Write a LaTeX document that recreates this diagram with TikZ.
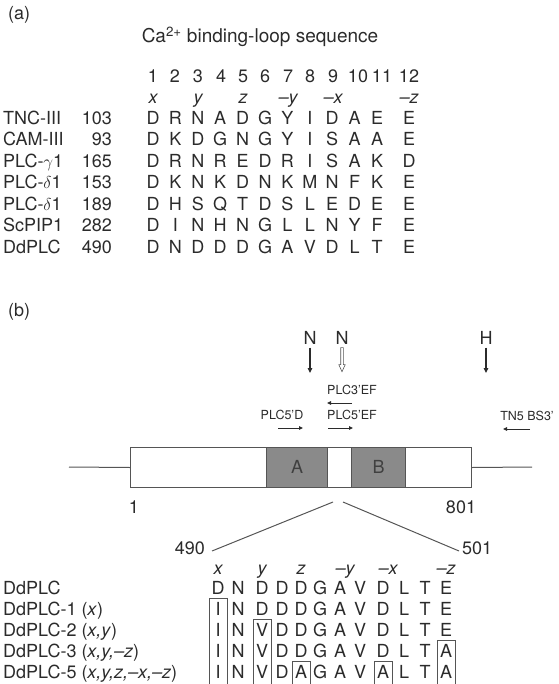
\documentclass[tikz,border=0pt]{standalone}
\usepackage{fontspec}
\setmainfont{TeX Gyre Heros}
\usetikzlibrary{arrows.meta,calc}
\definecolor{ink}{HTML}{2B2B2B}
\definecolor{linec}{HTML}{555555}
\definecolor{shade}{HTML}{8A8A8A}
\begin{document}
\begin{tikzpicture}[x=1pt,y=-1pt,
  txt/.style={inner sep=0pt,text height=12.9pt,text depth=0pt,font=\fontsize{18}{20}\selectfont,text=ink},
  small/.style={inner sep=0pt,text height=9pt,text depth=0pt,font=\fontsize{12.5}{14}\selectfont,text=ink},
  ln/.style={draw=linec,line width=1pt},
  arr/.style={draw=ink,line width=1.1pt,-{Triangle[length=5pt,width=4.5pt]}},
  parr/.style={draw=ink,line width=1pt,-{Triangle[length=4pt,width=3.5pt]}},
  mutbox/.style={draw=linec,line width=0.8pt}]
\useasboundingbox (0,0) rectangle (558,684);

% ---------------- (a)
\node[txt,anchor=west] (lbla) at (8,13) {(a)};
\node[txt,font=\fontsize{19}{21}\selectfont] (title) at (260,36) {Ca\textsuperscript{2+} binding-loop sequence};
\foreach \n/\xx in {1/153,2/175,3/198,4/221,5/243,6/265,7/288,8/310,9/333,10/358,11/382,12/409}
  \node[txt] (num\n) at (\xx,76) {\n};
\foreach \k/\xx/\s in {1/153/x,3/198/y,5/243/z,7/288/--y,9/333/--x,12/409/--z}
  \node[txt] (pa\k) at (\xx,97) {\itshape\s};
\foreach \lab/\num/\yy/\seq [count=\r] in {
 TNC-III/103/118/{D,R,N,A,D,G,Y,I,D,A,E,E},
 CAM-III/93/139.5/{D,K,D,G,N,G,Y,I,S,A,A,E},
 PLC-$\gamma$1/165/161/{D,R,N,R,E,D,R,I,S,A,K,D},
 PLC-$\delta$1/153/182.5/{D,K,N,K,D,N,K,M,N,F,K,E},
 PLC-$\delta$1/189/204/{D,H,S,Q,T,D,S,L,E,D,E,E},
 ScPIP1/282/225.5/{D,I,N,H,N,G,L,L,N,Y,F,E},
 DdPLC/490/247/{D,N,D,D,D,G,A,V,D,L,T,E}}
{
  \node[txt,anchor=west] (name\r) at (3,\yy) {\lab};
  \node[txt,anchor=east] (start\r) at (112,\yy) {\num};
  \foreach \c [count=\i] in \seq {
    \pgfmathsetmacro\cx{{153,175.4,197.8,220.2,242.6,265,287.4,309.8,332.2,354.6,377,409}[\i-1]}
    \node[txt] (s\r-\i) at (\cx,\yy) {\c};
  }
}

% ---------------- (b)
\node[txt,anchor=west] (lblb) at (8,310) {(b)};
\node[txt] (n1) at (310,338) {N};
\node[txt] (n2) at (342,338) {N};
\node[txt] (hh) at (486,338) {H};
\coordinate (n1e) at (310,373);
\coordinate (hhe) at (486,373);
\draw[arr] ($(n1.south)+(0,3)$) -- (n1e);
\draw[arr] ($(hh.south)+(0,3)$) -- (hhe);
\draw[draw=linec,line width=0.6pt,fill=white] ($(n2.south)+(-1.3,3)$) -- ++(2.6,0) -- ++(0,17) -- ++(1.9,0) -- ++(-3.2,7) -- ++(-3.2,-7) -- ++(1.9,0) -- cycle;

\node[small] (p3ef) at (352,390) {PLC3'EF};
\node[small] (p5d) at (282,415) {PLC5'D};
\node[small] (p5ef) at (352,415) {PLC5'EF};
\node[small] (tn5) at (527,416) {TN5 BS3'};
\coordinate (p3a) at (352,403); \coordinate (p3b) at (327,403);
\coordinate (p5da) at (278,428); \coordinate (p5db) at (303,428);
\coordinate (p5ea) at (328,428); \coordinate (p5eb) at (353,428);
\coordinate (tna) at (530,429); \coordinate (tnb) at (503,429);
\draw[parr] (p3a) -- (p3b);
\draw[parr] (p5da) -- (p5db);
\draw[parr] (p5ea) -- (p5eb);
\draw[parr] (tna) -- (tnb);

\node[draw=linec,line width=1pt,minimum width=341pt,minimum height=40pt,inner sep=0pt,anchor=north west] (bar) at (130,447) {};
\node[draw=linec,line width=1pt,fill=shade,minimum width=61pt,minimum height=40pt,inner sep=0pt,anchor=north west] (doma) at (266,447) {};
\node[draw=linec,line width=1pt,fill=shade,minimum width=54pt,minimum height=40pt,inner sep=0pt,anchor=north west] (domb) at (351,447) {};
\node[txt,text=black!75] (la) at (doma.center) {A};
\node[txt,text=black!75] (lb) at (domb.center) {B};
\coordinate (lend) at (69,467);
\coordinate (rend) at (532,467);
\draw[ln] (lend) -- (bar.west);
\draw[ln] (bar.east) -- (rend);
\node[txt] (one) at (134,507) {1};
\node[txt] (e801) at (461,507) {801};

\coordinate (dl) at (333,502);
\coordinate (dr) at (343,502);
\coordinate (dle) at (212,551);
\coordinate (dre) at (459,551);
\draw[ln] (dl) -- (dle);
\draw[ln] (dr) -- (dre);
\node[txt,anchor=east] (s490) at (205,548) {490};
\node[txt,anchor=west] (s501) at (462,548) {501};

\foreach \k/\xx/\s in {1/218/x,3/262/y,5/301/z,7/345/--y,9/388/--x,12/446/--z}
  \node[txt] (pb\k) at (\xx,568) {\itshape\s};
\foreach \lab/\yy/\seq [count=\r] in {
 DdPLC/588/{D,N,D,D,D,G,A,V,D,L,T,E},
 DdPLC-1 (\textit{x})/609/{I,N,D,D,D,G,A,V,D,L,T,E},
 DdPLC-2 (\textit{x,y})/630/{I,N,V,D,D,G,A,V,D,L,T,E},
 DdPLC-3 (\textit{x,y,--z})/651/{I,N,V,D,D,G,A,V,D,L,T,A},
 DdPLC-5 (\textit{x,y,z,--x,--z})/672/{I,N,V,D,A,G,A,V,A,L,T,A}}
{
  \node[txt,anchor=west] (mname\r) at (3,\yy) {\lab};
  \foreach \c [count=\i] in \seq {
    \pgfmathsetmacro\cx{{218,238,262,282,301,320,340,360,383,404,425,446}[\i-1]}
    \node[txt] (m\r-\i) at (\cx,\yy) {\c};
  }
}
\foreach \xx/\tp in {218/598.5,262/619.5,446/640.5,301/661.5,383/661.5}
  \draw[mutbox] (\xx-9,684) -- (\xx-9,\tp) -- (\xx+9,\tp) -- (\xx+9,684);
\end{tikzpicture}
\end{document}
